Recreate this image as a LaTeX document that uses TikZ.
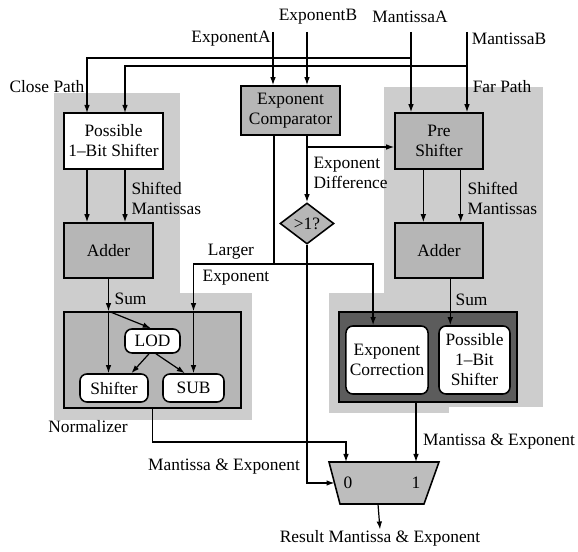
\documentclass[tikz,border=0pt]{standalone}
\usepackage{fontspec}
\setmainfont{Liberation Serif}
\usetikzlibrary{arrows.meta,shapes.geometric}
\definecolor{regiongray}{RGB}{205,205,205}
\definecolor{unitgray}{RGB}{182,182,182}
\definecolor{darkunit}{RGB}{92,92,92}

\begin{document}
\begin{tikzpicture}[x=0.575pt,y=-0.575pt,line width=0.7pt,
    >={Latex[length=4.6pt,width=3.2pt]},
    font=\fontsize{10}{11.5}\selectfont,
    region/.style={fill=regiongray},
    unit/.style={draw,line width=0.9pt,fill=unitgray,align=center,inner sep=0pt},
    plainbox/.style={draw,line width=0.9pt,fill=white,align=center,inner sep=0pt},
    softbox/.style={plainbox,rounded corners=4pt},
    lbl/.style={inner sep=0pt,align=left}]
  \useasboundingbox (0,0) rectangle (578,552);

  % shaded path regions
  \fill[region] (54,93) rectangle (180,420);
  \fill[region] (180,293) rectangle (252,420);
  \fill[region] (384,87) rectangle (543,407);
  \fill[region] (329,293) rectangle (449,413);

  % inputs
  \node[lbl] (expA) at (231,39) {ExponentA};
  \node[lbl] (expB) at (318,17) {ExponentB};
  \node[lbl] (manA) at (410,17) {MantissaA};
  \node[lbl] (manB) at (509,39) {MantissaB};
  \coordinate (inEA) at (273,32);
  \coordinate (inEB) at (307,32);
  \coordinate (inMA) at (411,32);
  \coordinate (inMB) at (467,32);
  \coordinate (brA) at (411,58);
  \coordinate (brB) at (467,66);

  \node[lbl] (closelbl) at (47,87) {Close Path};
  \node[lbl] (farlbl) at (502,87) {Far Path};

  % units
  \node[plainbox,minimum width=56.9pt,minimum height=32.2pt] (cshift) at (113.5,141) {Possible\\1--Bit Shifter};
  \node[unit,minimum width=56.9pt,minimum height=28.2pt] (comp) at (290.5,110.5) {Exponent\\Comparator};
  \node[unit,minimum width=50.6pt,minimum height=32.2pt] (preshift) at (439,141) {Pre\\Shifter};
  \node[unit,minimum width=51.2pt,minimum height=31.6pt] (cadd) at (108.5,250.5) {Adder};
  \node[unit,minimum width=50.6pt,minimum height=31.6pt] (fadd) at (439,250.5) {Adder};
  \node[diamond,draw,line width=0.9pt,fill=unitgray,inner sep=0pt,minimum width=31pt,minimum height=23.6pt] (dia) at (307,223.5) {>1?};

  \node[unit,minimum width=101.8pt,minimum height=55.2pt] (cnorm) at (152.5,360) {};
  \node[softbox,minimum width=31.6pt,minimum height=13.8pt] (lod) at (152.5,341) {LOD};
  \node[softbox,minimum width=39.1pt,minimum height=16.1pt] (cshf) at (114,388) {Shifter};
  \node[softbox,minimum width=35.1pt,minimum height=16.1pt] (sub) at (193.5,388) {SUB};

  \node[draw,line width=0.9pt,fill=darkunit,minimum width=102.4pt,minimum height=51.8pt] (fnorm) at (428,357) {};
  \node[softbox,minimum width=47.2pt,minimum height=39.1pt] (expcor) at (387,360) {Exponent\\Correction};
  \node[softbox,minimum width=40.8pt,minimum height=39.1pt] (fshf) at (474.5,360) {Possible\\1--Bit\\Shifter};

  % multiplexer
  \draw[line width=0.9pt,fill=regiongray!92!black] (329,462) -- (439,462) -- (424,504) -- (340,504) -- cycle;
  \node[lbl] (mux0) at (348,483) {0};
  \node[lbl] (mux1) at (416,483) {1};
  \coordinate (muxin0) at (346,462);
  \coordinate (muxin1) at (416,462);
  \coordinate (muxsel) at (334.5,483);
  \coordinate (muxout) at (378,504);

  % labels
  \node[lbl,anchor=west] (difflbl) at (313,173) {Exponent\\Difference};
  \node[lbl,anchor=west] (cshlbl) at (131,198) {Shifted\\Mantissas};
  \node[lbl,anchor=west] (fshlbl) at (467,198) {Shifted\\Mantissas};
  \node[lbl] (largelbl) at (231,252) {Larger};
  \node[lbl] (largeexp) at (236,278) {Exponent};
  \node[lbl,anchor=west] (csum) at (114,299) {Sum};
  \node[lbl,anchor=west] (fsum) at (455,300) {Sum};
  \node[lbl] (normlbl) at (88,427) {Normalizer};
  \node[lbl] (cme) at (224,467) {Mantissa \& Exponent};
  \node[lbl] (fme) at (499,442) {Mantissa \& Exponent};
  \node[lbl] (res) at (380,538) {Result Mantissa \& Exponent};

  % input wiring
  \draw[->] (inEA) -- (comp.north -| inEA);
  \draw[->] (inEB) -- (comp.north -| inEB);
  \draw[->] (inMA) -- (preshift.north -| inMA);
  \draw[->] (inMB) -- (preshift.north -| inMB);
  \coordinate (csA) at (87,113);
  \coordinate (csB) at (125,113);
  \draw[->] (brA) -| (csA);
  \draw[->] (brB) -| (csB);

  % close path
  \draw[->] (csA |- cshift.south) -- (csA |- cadd.north);
  \draw[->] (csB |- cshift.south) -- (csB |- cadd.north);
  \draw[->] (cadd.south) -- (cnorm.north -| cadd.south);
  \draw[->] (cnorm.north -| cadd.south) -- (cshf.north -| cadd.south);
  \draw[->] (cnorm.north -| cadd.south) -- ([xshift=-1pt]lod.north);
  \draw[->] ([xshift=-2pt]lod.south) -- ([xshift=10pt]cshf.north);
  \draw[->] ([xshift=2pt]lod.south) -- ([xshift=-5pt]sub.north);

  % comparator outputs
  \coordinate (lgj) at (274,264);
  \coordinate (edj) at (307,147);
  \draw (comp.south -| lgj) -- (lgj);
  \draw[->] (lgj) -| (cnorm.north -| sub.north);
  \draw[->] (cnorm.north -| sub.north) -- (sub.north);
  \draw[->] (lgj) -| ([xshift=-8pt]expcor.north);
  \draw[->] (comp.south -| dia.north) -- (dia.north);
  \draw[->] (edj) -- (edj -| preshift.west);
  \draw[->] (dia.south) |- (muxsel);

  % far path
  \coordinate (fsum0) at ([xshift=6.5pt]fadd.south);
  \draw[->] ([xshift=-9pt]preshift.south) -- ([xshift=-9pt]fadd.north);
  \draw[->] ([xshift=12.5pt]preshift.south) -- ([xshift=12.5pt]fadd.north);
  \draw[->] (fsum0) -- (fshf.north -| fsum0);

  % results
  \coordinate (mej) at (346,442);
  \draw[->] (cnorm.south) |- (mej) -- (muxin0);
  \draw[->] (fnorm.south -| muxin1) -- (muxin1);
  \draw[->] (muxout) -- (res.north);
\end{tikzpicture}
\end{document}
